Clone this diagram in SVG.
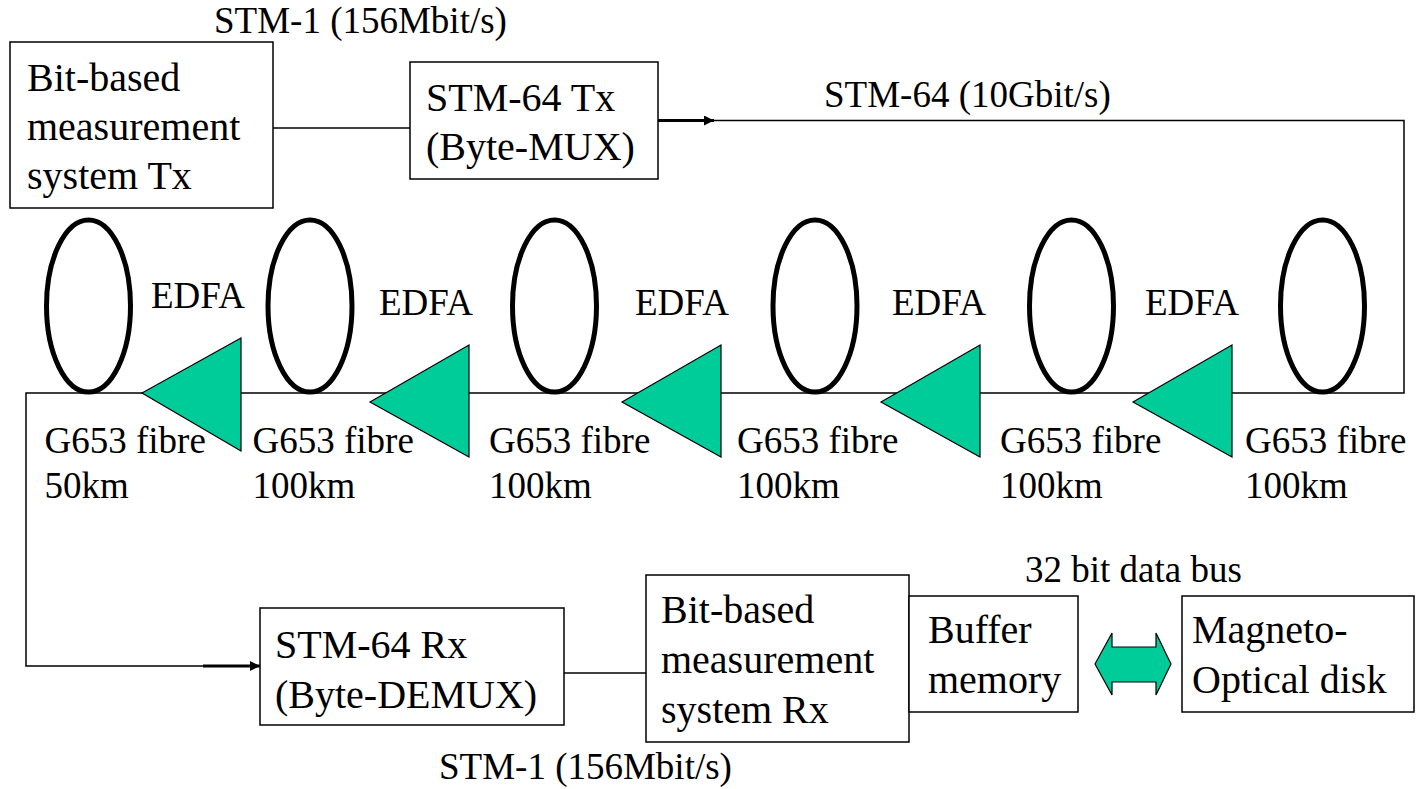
<svg xmlns="http://www.w3.org/2000/svg" width="1418" height="789" viewBox="0 0 1418 789">
<style>
text{font-family:"Liberation Serif","Times New Roman",serif;fill:#000}
.bt{font-size:40px}
.lb{font-size:37px}
.box{fill:#fff;stroke:#000;stroke-width:1.5}
.ln{fill:none;stroke:#000;stroke-width:1.5}
.thk{fill:none;stroke:#000;stroke-width:3}
.ring{fill:none;stroke:#000;stroke-width:5}
.amp{fill:#00CC99;stroke:#000;stroke-width:1.2}
</style>
<defs>
<marker id="ah" markerWidth="10" markerHeight="10" refX="10" refY="5" orient="auto" markerUnits="userSpaceOnUse">
<path d="M0,0 L10,5 L0,10 Z" fill="#000"/>
</marker>
</defs>
<rect width="1418" height="789" fill="#fff"/>
<g id="connectors">
<line class="ln" x1="273" y1="128" x2="410" y2="128"/>
<line class="thk" x1="658" y1="120.5" x2="714" y2="120.5" marker-end="url(#ah)"/>
<polyline class="ln" points="714,120.5 1404,120.5 1404,393 26,393 26,666 203,666"/>
<line class="thk" x1="203" y1="666" x2="260" y2="666" marker-end="url(#ah)"/>
<line class="ln" x1="564" y1="673" x2="646" y2="673"/>
</g>
<g id="labels">
<text class="lb" x="214" y="33">STM-1 (156Mbit/s)</text>
<text class="lb" x="824" y="107">STM-64 (10Gbit/s)</text>
<text class="lb" x="1025" y="582">32 bit data bus</text>
<text class="lb" x="439" y="779">STM-1 (156Mbit/s)</text>
</g>
<g id="tx-meas">
<rect class="box" x="10" y="42" width="263" height="166"/>
<text class="bt" x="27" y="91">Bit-based</text>
<text class="bt" x="27" y="140">measurement</text>
<text class="bt" x="27" y="189">system Tx</text>
</g>
<g id="stm64-tx">
<rect class="box" x="410" y="62" width="248" height="117"/>
<text class="bt" x="426" y="111">STM-64 Tx</text>
<text class="bt" x="426" y="160">(Byte-MUX)</text>
</g>
<g id="fibres">
<ellipse class="ring" cx="88.5" cy="306" rx="42" ry="86"/>
<ellipse class="ring" cx="310" cy="306" rx="42" ry="86"/>
<ellipse class="ring" cx="554.5" cy="306" rx="42" ry="86"/>
<ellipse class="ring" cx="815" cy="306" rx="42" ry="86"/>
<ellipse class="ring" cx="1071.5" cy="306" rx="42" ry="86"/>
<ellipse class="ring" cx="1322.5" cy="306" rx="42" ry="86"/>
</g>
<g id="edfas">
<polygon class="amp" points="142,393 241,338 241,451"/>
<polygon class="amp" points="370,402 469,345 469,457"/>
<polygon class="amp" points="622,402 721,345 721,457"/>
<polygon class="amp" points="881,402 980,345 980,457"/>
<polygon class="amp" points="1133,402 1232,345 1232,457"/>
<text class="lb" x="151" y="308">EDFA</text>
<text class="lb" x="379" y="315">EDFA</text>
<text class="lb" x="635" y="315">EDFA</text>
<text class="lb" x="892" y="315">EDFA</text>
<text class="lb" x="1145" y="315">EDFA</text>
</g>
<g id="fibre-labels">
<text class="lb" x="44.5" y="453">G653 fibre</text><text class="lb" x="44.5" y="498">50km</text>
<text class="lb" x="252.5" y="453">G653 fibre</text><text class="lb" x="252.5" y="498">100km</text>
<text class="lb" x="489" y="453">G653 fibre</text><text class="lb" x="489" y="498">100km</text>
<text class="lb" x="737" y="453">G653 fibre</text><text class="lb" x="737" y="498">100km</text>
<text class="lb" x="1000" y="453">G653 fibre</text><text class="lb" x="1000" y="498">100km</text>
<text class="lb" x="1245" y="453">G653 fibre</text><text class="lb" x="1245" y="498">100km</text>
</g>
<g id="stm64-rx">
<rect class="box" x="260" y="608" width="304" height="117"/>
<text class="bt" x="275" y="658">STM-64 Rx</text>
<text class="bt" x="275" y="708">(Byte-DEMUX)</text>
</g>
<g id="rx-meas">
<rect class="box" x="646" y="575" width="263" height="167"/>
<text class="bt" x="661" y="623">Bit-based</text>
<text class="bt" x="661" y="673">measurement</text>
<text class="bt" x="661" y="723">system Rx</text>
</g>
<g id="buffer">
<rect class="box" x="909" y="596" width="169" height="116"/>
<text class="bt" x="928" y="643">Buffer</text>
<text class="bt" x="928" y="693">memory</text>
</g>
<g id="bus-arrow">
<polygon class="amp" points="1095,664 1112,633 1112,647 1156,647 1156,633 1171,664 1156,695 1156,682 1112,682 1112,695"/>
</g>
<g id="mo-disk">
<rect class="box" x="1182" y="596" width="232" height="116"/>
<text class="bt" x="1192" y="643">Magneto-</text>
<text class="bt" x="1192" y="693">Optical disk</text>
</g>
</svg>
